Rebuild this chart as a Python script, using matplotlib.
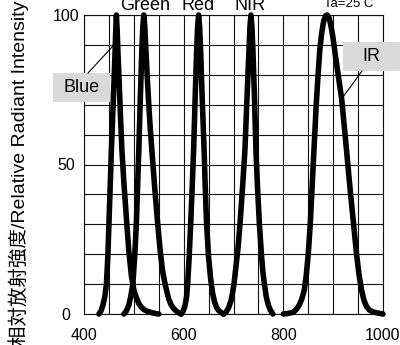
import matplotlib
matplotlib.use("Agg")
import matplotlib.pyplot as plt
from matplotlib.patches import Rectangle
from matplotlib.lines import Line2D

plt.rcParams['font.family'] = ['Liberation Sans', 'Noto Sans CJK JP', 'DejaVu Sans']

# Spectral emission curves (wavelength in nm, relative intensity in %)
blue_nm = [430, 434, 438, 442, 445, 448, 450, 453, 455, 458, 460, 462, 463.5, 465,
           466.5, 468, 470, 473, 476, 480, 486, 490, 495, 500, 505, 510, 515, 520,
           527, 535, 542, 550]
blue_val = [0, 1, 3, 6, 10, 20, 30, 45, 55, 68, 77, 86, 94, 100,
            95, 88, 80, 67, 55, 44, 30, 21, 13, 8, 5.5, 3.5, 2.3, 1.5,
            0.9, 0.5, 0.2, 0]

green_nm = [480, 485, 490, 494, 498, 502, 505, 508, 510, 513, 516, 518, 520, 522,
            524, 527, 530, 533, 537, 542, 548, 553, 558, 564, 570, 575, 580, 585,
            590, 595]
green_val = [0, 1, 3, 6, 10, 20, 30, 45, 55, 72, 88, 96, 100, 96,
             89, 79, 70, 62, 53, 42, 30, 21, 14, 9, 5, 3, 1.8, 1,
             0.4, 0]

red_nm = [595, 599, 603, 606, 608, 611, 614, 617, 620, 623, 626, 628, 630, 632,
          634, 637, 641, 643, 646, 650, 654, 658, 662, 666, 670, 675, 680]
red_val = [0, 1, 3, 6, 10, 19, 30, 42, 55, 72, 88, 96, 100, 96,
           88, 73, 55, 44, 30, 19, 12, 7, 4, 2.2, 1.2, 0.5, 0]

nir_nm = [680, 685, 690, 695, 698, 701, 705, 709, 713, 718, 723, 727, 731, 733,
          735, 737, 739, 742, 745, 748, 752, 756, 759, 762, 766, 770, 774, 779]
nir_val = [0, 0.6, 2, 4.5, 7, 10, 16, 22, 30, 42, 55, 72, 88, 96,
           100, 96, 88, 73, 55, 43, 30, 20, 14, 10, 5.5, 3, 1.3, 0]

ir_nm = [800, 810, 820, 826, 832, 837, 842, 846, 850, 854, 857, 860, 863, 866,
         869, 873, 877, 881, 885, 888, 892, 896, 900, 904, 910, 917, 925, 930,
         935, 941, 947, 952, 957, 962, 967, 973, 980, 990, 1000]
ir_val = [0, 0.2, 0.6, 1.5, 3, 5, 8, 13, 20, 30, 40, 50, 60, 70,
          78, 88, 94, 98, 99.8, 100, 99, 96, 92, 87, 80, 72, 58, 49,
          40, 30, 20, 13, 8, 4.5, 2.5, 1.3, 0.7, 0.3, 0]

curves = [(blue_nm, blue_val), (green_nm, green_val), (red_nm, red_val),
          (nir_nm, nir_val), (ir_nm, ir_val)]

x_ticks = [400, 600, 800, 1000]
y_ticks = [0, 50, 100]

W, H = 400, 345
fig = plt.figure(figsize=(W / 100, H / 100), dpi=100)


def fx(px):
    return px / W


def fy(py):
    return 1 - py / H


ax = fig.add_axes([fx(84), fy(314), fx(383) - fx(84), fy(15) - fy(314)])

for nm, val in curves:
    ax.plot(nm, val, color='black', lw=4.0, solid_capstyle='round',
            solid_joinstyle='round', clip_on=False, zorder=3)

ax.set_xlim(400, 1000)
ax.set_ylim(0, 100)
ax.set_xticks(x_ticks)
ax.set_xticks(range(400, 1001, 50), minor=True)
ax.set_yticks(y_ticks)
ax.set_yticks(range(0, 101, 10), minor=True)
ax.grid(which='both', color='#111111', lw=0.8)
ax.set_axisbelow(True)
ax.tick_params(which='both', length=0)
ax.tick_params(axis='y', pad=13, labelsize=11.5)
ax.tick_params(axis='x', pad=10, labelsize=11.5)
for lab in ax.get_yticklabels():
    lab.set_horizontalalignment('center')
for s in ax.spines.values():
    s.set_color('#111111')
    s.set_linewidth(0.8)

# Axis title
fig.text(fx(19), fy(173), '相対放射強度/Relative Radiant Intensity', rotation=90,
         ha='center', va='center', fontsize=14)

# Peak names across the top
fig.text(fx(145), fy(10), 'Green', ha='center', va='baseline', fontsize=13)
fig.text(fx(198), fy(10), 'Red', ha='center', va='baseline', fontsize=13)
fig.text(fx(250), fy(10), 'NIR', ha='center', va='baseline', fontsize=13)
fig.text(fx(349), fy(7), 'Ta=25 C', ha='center', va='baseline', fontsize=9.5)

# Callout boxes
for (x0, y0, x1, y1), label, (lx0, ly0, lx1, ly1) in [
        ((53, 73, 110, 102), 'Blue', (88, 73, 113, 46)),
        ((343, 42, 400, 71), 'IR', (362, 71, 343, 97))]:
    fig.add_artist(Rectangle((fx(x0), fy(y1)), fx(x1) - fx(x0), fy(y0) - fy(y1),
                             transform=fig.transFigure, facecolor='#d9d9d9',
                             edgecolor='none', zorder=5))
    fig.text(fx((x0 + x1) / 2), fy((y0 + y1) / 2), label, ha='center', va='center',
             fontsize=13, zorder=6)
    fig.add_artist(Line2D([fx(lx0), fx(lx1)], [fy(ly0), fy(ly1)],
                          transform=fig.transFigure, color='black', lw=0.8, zorder=6))

fig.savefig('out.png', dpi=100)
